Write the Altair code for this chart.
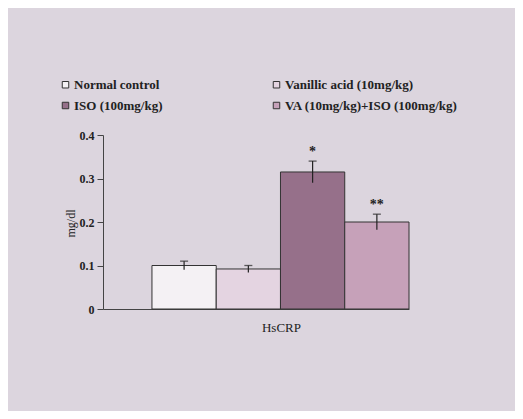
import altair as alt
import pandas as pd

groups = ["Normal control", "Vanillic acid (10mg/kg)", "ISO (100mg/kg)", "VA (10mg/kg)+ISO (100mg/kg)"]
means = [0.10, 0.092, 0.315, 0.20]
errs = [0.01, 0.008, 0.025, 0.018]
stars = ["", "", "*", "**"]
colors = ["#f4f1f4", "#e4d4e1", "#96708a", "#c6a1b9"]
y_ticks = [0, 0.1, 0.2, 0.3, 0.4]

df = pd.DataFrame({"group": groups, "mean": means, "err": errs, "star": stars})
df["top"] = df["mean"] + df["err"]
df["low"] = df["mean"] - df["err"]

FONT = "Liberation Serif"

xenc = alt.X(
    "group:N",
    sort=groups,
    scale=alt.Scale(paddingInner=0, paddingOuter=0.381, align=1),
    axis=alt.Axis(
        labels=False, ticks=False, title="HsCRP", titleFont=FONT, titleFontSize=13,
        titleFontWeight="normal", titleColor="#222", titleX=178, titleY=18,
        titleBaseline="middle", domainColor="#444", domainWidth=1,
    ),
)
yscale = alt.Scale(domain=[0, 0.4])

bars = alt.Chart(df).mark_bar(stroke="#333", strokeWidth=1).encode(
    x=xenc,
    y=alt.Y(
        "mean:Q",
        scale=yscale,
        axis=alt.Axis(
            values=y_ticks, grid=False, title="mg/dl", titleFont=FONT, titleFontSize=12,
            titleFontWeight="normal", titleColor="#222", titleX=-33, titleY=88,
            titleAngle=-90, titleAlign="center", titleBaseline="middle",
            labelFont=FONT, labelFontSize=12, labelFontWeight="bold", labelColor="#222",
            labelExpr="datum.value == 0 ? '0' : format(datum.value, '.1f')",
            tickSize=6, tickColor="#444", domainColor="#444", labelPadding=3,
        ),
    ),
    color=alt.Color(
        "group:N",
        sort=groups,
        scale=alt.Scale(domain=groups, range=colors),
        legend=alt.Legend(
            title=None, orient="none", legendX=-44, legendY=-57, columns=2,
            direction="horizontal",
            columnPadding=107, rowPadding=7, symbolType="square", symbolSize=42,
            symbolStrokeColor="#333", symbolStrokeWidth=1, labelFont=FONT,
            labelFontSize=13, labelFontWeight="bold", labelColor="#222",
            labelLimit=400, symbolOffset=0, labelOffset=2,
        ),
    ),
)

rules = alt.Chart(df).mark_rule(color="#222", strokeWidth=1.2).encode(
    x=alt.X("group:N", sort=groups), y=alt.Y("low:Q", scale=yscale), y2="top:Q"
)
caps = alt.Chart(df).mark_tick(color="#222", thickness=1.3, size=8, orient="horizontal").encode(
    x=alt.X("group:N", sort=groups), y=alt.Y("top:Q", scale=yscale)
)
text = alt.Chart(df).mark_text(
    font=FONT, fontSize=14, fontWeight="bold", color="#222", baseline="middle", dy=-9
).encode(x=alt.X("group:N", sort=groups), y=alt.Y("top:Q", scale=yscale), text="star:N")

chart = (
    alt.layer(bars, rules, caps, text)
    .properties(
        width=306, height=174,
        autosize=alt.AutoSizeParams(type="none"),
        padding={"left": 95, "top": 127, "right": 106, "bottom": 102},
        background="#dcd5de",
    )
    .configure_view(stroke="transparent")
)

chart.save("out.html", embed_options={"renderer": "svg", "actions": False})
